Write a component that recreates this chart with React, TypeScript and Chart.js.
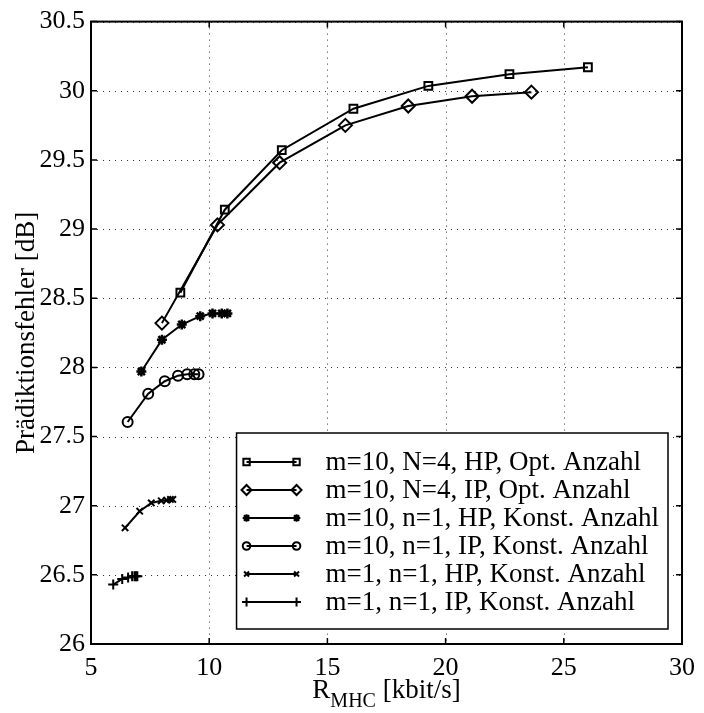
import React, { useEffect, useRef } from 'react';
import { Chart, registerables } from 'chart.js';
import { drawPoint } from 'chart.js/helpers';
Chart.register(...registerables);

const xTicks = [5, 10, 15, 20, 25, 30];
const yTicks = [26, 26.5, 27, 27.5, 28, 28.5, 29, 29.5, 30, 30.5];

const seriesLabels = [
  'm=10, N=4, HP, Opt. Anzahl',
  'm=10, N=4, IP, Opt. Anzahl',
  'm=10, n=1, HP, Konst. Anzahl',
  'm=10, n=1, IP, Konst. Anzahl',
  'm=1, n=1, HP, Konst. Anzahl',
  'm=1, n=1, IP, Konst. Anzahl',
];

const s1x = [8.78, 10.66, 13.07, 16.1, 19.27, 22.7, 26.02];
const s1y = [28.54, 29.14, 29.57, 29.87, 30.035, 30.12, 30.17];
const s2x = [8.0, 10.35, 12.98, 15.76, 18.42, 21.12, 23.63];
const s2y = [28.32, 29.03, 29.48, 29.75, 29.89, 29.96, 29.99];
const s3x = [7.13, 8.0, 8.84, 9.62, 10.14, 10.53, 10.77];
const s3y = [27.97, 28.2, 28.31, 28.37, 28.39, 28.39, 28.39];
const s4x = [6.55, 7.42, 8.12, 8.68, 9.07, 9.37, 9.55];
const s4y = [27.605, 27.81, 27.9, 27.94, 27.95, 27.95, 27.95];
const s5x = [6.44, 7.06, 7.55, 7.97, 8.2, 8.36, 8.46];
const s5y = [26.84, 26.96, 27.02, 27.035, 27.04, 27.045, 27.045];
const s6x = [5.94, 6.32, 6.57, 6.74, 6.84, 6.9, 6.96];
const s6y = [26.43, 26.47, 26.48, 26.49, 26.49, 26.49, 26.49];

const seriesX = [s1x, s2x, s3x, s4x, s5x, s6x];
const seriesY = [s1y, s2y, s3y, s4y, s5y, s6y];
const pointStyles = ['rect', 'rectRot', 'star', 'circle', 'crossRot', 'cross'];
const pointRadii = [5.5, 6.5, 5, 5, 4.5, 5];
const legendRadii = [4.5, 5, 3.8, 3.8, 3.5, 4.5];

const yTitle = 'Prädiktionsfehler [dB]';
const xTitleMain = 'R';
const xTitleSub = 'MHC';
const xTitleRest = ' [kbit/s]';

const FONT = '"Liberation Serif", "Times New Roman", serif';
const FS = 26;
const LFS = 27;

export default function App() {
  const ref = useRef<HTMLCanvasElement>(null);
  useEffect(() => {
    const canvas = ref.current!;
    const datasets = seriesLabels.map((label, i) => ({
      label,
      data: seriesX[i].map((x, j) => ({ x, y: seriesY[i][j] })),
      borderColor: '#000',
      backgroundColor: 'rgba(0,0,0,0)',
      borderWidth: 2,
      pointStyle: pointStyles[i],
      pointRadius: pointRadii[i],
      pointBorderWidth: i === 2 ? 2.5 : 2,
      pointBorderColor: '#000',
      pointBackgroundColor: 'rgba(0,0,0,0)',
      showLine: true,
      tension: 0,
      fill: false,
    }));

    const framePlugin = {
      id: 'frame',
      beforeDatasetsDraw(chart: any) {
        const { ctx, chartArea: a, scales } = chart;
        ctx.save();
        ctx.strokeStyle = '#333';
        ctx.lineWidth = 1;
        ctx.setLineDash([1, 5]);
        xTicks.forEach((v) => {
          const px = Math.round(scales.x.getPixelForValue(v)) + 0.5;
          ctx.beginPath();
          ctx.moveTo(px, a.top);
          ctx.lineTo(px, a.bottom);
          ctx.stroke();
        });
        yTicks.forEach((v) => {
          const py = Math.round(scales.y.getPixelForValue(v)) + 0.5;
          ctx.beginPath();
          ctx.moveTo(a.left, py);
          ctx.lineTo(a.right, py);
          ctx.stroke();
        });
        ctx.restore();
      },
      afterDatasetsDraw(chart: any) {
        const { ctx, chartArea: a, scales } = chart;
        ctx.save();
        // inward ticks
        ctx.strokeStyle = '#000';
        ctx.lineWidth = 1.5;
        const tl = 6;
        xTicks.forEach((v) => {
          const px = scales.x.getPixelForValue(v);
          ctx.beginPath();
          ctx.moveTo(px, a.bottom);
          ctx.lineTo(px, a.bottom - tl);
          ctx.moveTo(px, a.top);
          ctx.lineTo(px, a.top + tl);
          ctx.stroke();
        });
        yTicks.forEach((v) => {
          const py = scales.y.getPixelForValue(v);
          ctx.beginPath();
          ctx.moveTo(a.left, py);
          ctx.lineTo(a.left + tl, py);
          ctx.moveTo(a.right, py);
          ctx.lineTo(a.right - tl, py);
          ctx.stroke();
        });
        // box
        ctx.lineWidth = 2;
        ctx.strokeRect(a.left, a.top, a.right - a.left, a.bottom - a.top);

        // legend
        ctx.font = `${LFS}px ${FONT}`;
        let maxW = 0;
        seriesLabels.forEach((l) => {
          maxW = Math.max(maxW, ctx.measureText(l).width);
        });
        const right = a.right - 14;
        const bottom = a.bottom - 15;
        const rowH = 28;
        const h = 29 + rowH * (seriesLabels.length - 1) + 27;
        const w = 89 + maxW + 9;
        const left = right - w;
        const top = bottom - h;
        ctx.fillStyle = '#fff';
        ctx.fillRect(left, top, w, h);
        ctx.lineWidth = 1.5;
        ctx.strokeStyle = '#000';
        ctx.strokeRect(left, top, w, h);
        seriesLabels.forEach((l, i) => {
          const y = top + 29 + i * rowH;
          ctx.strokeStyle = '#000';
          ctx.lineWidth = 2;
          ctx.beginPath();
          ctx.moveTo(left + 10, y);
          ctx.lineTo(left + 60, y);
          ctx.stroke();
          const opts = {
            pointStyle: pointStyles[i],
            radius: legendRadii[i],
            rotation: 0,
            borderWidth: 2,
          };
          ctx.fillStyle = 'rgba(0,0,0,0)';
          ctx.strokeStyle = '#000';
          ctx.lineWidth = 2;
          drawPoint(ctx, opts as any, left + 10, y);
          ctx.lineWidth = 2;
          drawPoint(ctx, opts as any, left + 60, y);
          ctx.fillStyle = '#000';
          ctx.textBaseline = 'middle';
          ctx.textAlign = 'left';
          ctx.font = `${LFS}px ${FONT}`;
          ctx.fillText(l, left + 89, y + 1);
        });

        // y title
        ctx.save();
        ctx.translate(27, (a.top + a.bottom) / 2);
        ctx.rotate(-Math.PI / 2);
        ctx.textAlign = 'center';
        ctx.textBaseline = 'middle';
        ctx.fillStyle = '#000';
        ctx.font = `${LFS}px ${FONT}`;
        ctx.fillText(yTitle, 0, 0);
        ctx.restore();

        // x title
        const subFont = `20px ${FONT}`;
        const mainFont = `${LFS}px ${FONT}`;
        ctx.font = mainFont;
        const wR = ctx.measureText(xTitleMain).width;
        const wRest = ctx.measureText(xTitleRest).width;
        ctx.font = subFont;
        const wSub = ctx.measureText(xTitleSub).width;
        const total = wR + wSub + wRest;
        let x0 = (a.left + a.right) / 2 - total / 2;
        const base = 698;
        ctx.textAlign = 'left';
        ctx.textBaseline = 'alphabetic';
        ctx.fillStyle = '#000';
        ctx.font = mainFont;
        ctx.fillText(xTitleMain, x0, base);
        x0 += wR;
        ctx.font = subFont;
        ctx.fillText(xTitleSub, x0, base + 9);
        x0 += wSub;
        ctx.font = mainFont;
        ctx.fillText(xTitleRest, x0, base);
        ctx.restore();
      },
    };

    const chart = new Chart(canvas, {
      type: 'scatter',
      data: { datasets: datasets as any },
      options: {
        animation: false,
        responsive: false,
        devicePixelRatio: 1,
        layout: { padding: { left: 0, top: 18, right: 18, bottom: 0 } },
        plugins: { legend: { display: false }, tooltip: { enabled: false }, title: { display: false } },
        scales: {
          x: {
            type: 'linear',
            min: 5,
            max: 30,
            afterBuildTicks: (s: any) => {
              s.ticks = xTicks.map((v) => ({ value: v }));
            },
            afterFit: (s: any) => {
              s.height = 69;
            },
            grid: { display: false, drawTicks: false },
            border: { display: false },
            ticks: {
              color: '#000',
              font: { family: FONT, size: FS },
              padding: 9,
              maxRotation: 0,
              autoSkip: false,
              callback: (v: any) => String(v),
            },
          },
          y: {
            type: 'linear',
            min: 26,
            max: 30.5,
            afterBuildTicks: (s: any) => {
              s.ticks = yTicks.map((v) => ({ value: v }));
            },
            afterFit: (s: any) => {
              s.width = 91;
            },
            grid: { display: false, drawTicks: false },
            border: { display: false },
            ticks: {
              color: '#000',
              font: { family: FONT, size: FS },
              padding: 6,
              autoSkip: false,
              callback: (v: any) => String(v),
            },
          },
        },
      },
      plugins: [framePlugin],
    });
    return () => chart.destroy();
  }, []);
  return (
    <div style={{ position: 'absolute', left: 0, top: 0, width: 704, height: 713, background: '#fff' }}>
      <canvas ref={ref} width={704} height={713} style={{ display: 'block' }} />
    </div>
  );
}
